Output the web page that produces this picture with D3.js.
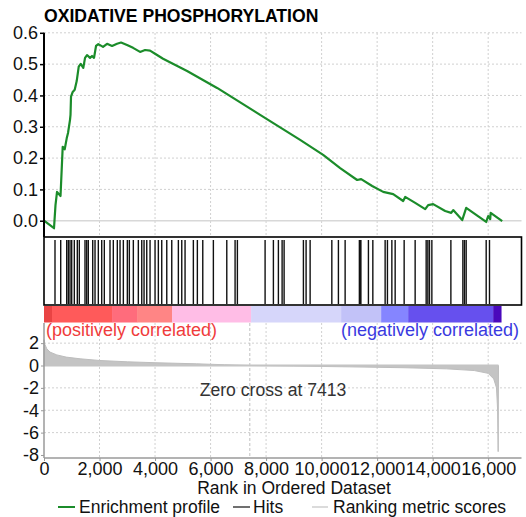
<!DOCTYPE html>
<html><head><meta charset="utf-8">
<script src="https://cdn.jsdelivr.net/npm/d3@7"></script>
<style>body{margin:0;background:#fff}svg{display:block;font-family:"Liberation Sans",Arial,Helvetica,sans-serif}</style>
</head><body><svg id="c" width="526" height="517"></svg>
<script>
const title = "OXIDATIVE PHOSPHORYLATION";
const xTicks = [0, 2000, 4000, 6000, 8000, 10000, 12000, 14000, 16000];
const esTicks = [0.0, 0.1, 0.2, 0.3, 0.4, 0.5, 0.6];
const metricTicks = [2, 0, -2, -4, -6, -8];
const zeroCross = 7413;
// running enrichment profile [rank, ES]
const esRank = [0,360,414,469,595,674,746,818,865,937,955,973,1034,1106,1178,1251,1323,1416,1478,1550,1658,1730,1802,1874,1957,2126,2271,2451,2631,2775,2991,3208,3460,3640,3820,4000,4289,5154,6235,7785,9226,10055,10668,11280,11425,11821,12218,12578,12938,13010,13371,13731,13839,14019,14451,14668,14740,15064,15208,15928,16000,16072,16090,16505];
const esValue = [0,-0.024,0.050,0.092,0.079,0.236,0.228,0.263,0.280,0.322,0.338,0.396,0.411,0.418,0.446,0.492,0.501,0.488,0.520,0.529,0.520,0.526,0.520,0.558,0.564,0.555,0.565,0.558,0.565,0.569,0.561,0.552,0.539,0.545,0.543,0.533,0.517,0.478,0.424,0.338,0.258,0.210,0.168,0.130,0.133,0.111,0.092,0.085,0.063,0.076,0.057,0.037,0.050,0.053,0.031,0.025,0.034,0.002,0.041,-0.004,0.015,0.005,0.025,-0.001];
// hit positions (rank)
const hits = [396,602,818,876,937,998,1092,1200,1272,1477,1539,1596,1755,1838,1957,2079,2173,2378,2497,2641,2739,2858,3002,3074,3218,3398,3521,3604,3701,3820,4000,4119,4241,4422,4602,4840,4962,5081,5380,5524,5719,6101,6584,6883,6966,7964,8263,8443,8577,8649,9344,9441,9586,10368,10605,10847,11360,11390,11415,11686,11845,12288,12371,12530,12649,12973,13369,13766,13827,13885,13971,14656,15088,15146,15207,15928,16047];
// ranking metric [rank, score]
const metricRank = [0,30,100,216,460,800,1300,2000,3000,4000,5500,6500,7413,9000,11000,13000,14500,15500,16000,16200,16300,16340,16360,16370];
const metricValue = [2.3,1.9,1.5,1.2,0.95,0.75,0.6,0.45,0.33,0.25,0.15,0.07,0,-0.05,-0.12,-0.2,-0.3,-0.45,-0.7,-1.2,-2.0,-4.0,-7.7,0];
// colour bar segments
const segStart = [0,288,2451,3352,4613,7460,10704,12145,13119,16182];
const segEnd = [288,2451,3352,4613,7460,10704,12145,13119,16182,16470];
const segColor = ["#e94444","#ff5a5a","#ff6c7c","#ff8585","#ffbde6","#d6d6fa","#c2c2f8","#8585ff","#6650ee","#4a08bc"];

const FONT = "Liberation Sans,Arial,sans-serif";
const svg = d3.select("#c");
const x = d3.scaleLinear().domain([0, 17200]).range([44, 521.5]);
const yE = d3.scaleLinear().domain([-0.052, 0.6]).range([237, 32.8]);
const yM = d3.scaleLinear().domain([-8.27, 3.8]).range([458, 323]);
const L = 44, R = 521.5;

// title
svg.append("text").attr("x", 44).attr("y", 22).attr("font-size", 17.6).attr("font-weight", "bold").text(title);

// top panel grid
const g = svg.append("g");
xTicks.slice(1).forEach(t => {
  g.append("line").attr("x1", x(t)).attr("x2", x(t)).attr("y1", 33).attr("y2", 237).attr("stroke", "#d0d0d0").attr("stroke-dasharray", "2,2");
});
esTicks.forEach(t => {
  if (t === 0) g.append("line").attr("x1", L).attr("x2", R).attr("y1", yE(t)).attr("y2", yE(t)).attr("stroke", "#d8d8d8").attr("stroke-width", 1.5);
  else g.append("line").attr("x1", L).attr("x2", R).attr("y1", yE(t)).attr("y2", yE(t)).attr("stroke", "#d0d0d0").attr("stroke-dasharray", "2,2");
});

// enrichment line
const es = esRank.map((r, i) => [r, esValue[i]]);
svg.append("path").datum(es).attr("fill", "none").attr("stroke", "#1b8c2a").attr("stroke-width", 2.2)
  .attr("stroke-linejoin", "round").attr("d", d3.line().x(d => x(d[0])).y(d => yE(d[1])));

// top y axis
const ax = svg.append("g").attr("transform", `translate(${L},0)`).call(d3.axisLeft(yE).tickValues(esTicks).tickFormat(d3.format(".1f")).tickSize(4).tickPadding(2));
ax.select(".domain").attr("stroke", "#000").attr("stroke-width", 2).attr("d", `M0,${yE(0.6)}V237`);
ax.selectAll("text").attr("font-size", 18).attr("font-family", FONT).attr("fill", "#111");
ax.selectAll(".tick line").attr("stroke", "#000").attr("stroke-width", 1.5);

// hits box
svg.append("rect").attr("x", L).attr("y", 237).attr("width", R - L).attr("height", 68).attr("fill", "#fff").attr("stroke", "#000").attr("stroke-width", 1.6);
svg.append("g").selectAll("line").data(hits).join("line")
  .attr("x1", d => x(d)).attr("x2", d => x(d)).attr("y1", 240).attr("y2", 304).attr("stroke", "#111").attr("stroke-width", 1.4);

// colour bar
svg.append("g").selectAll("rect").data(segColor).join("rect")
  .attr("x", (d, i) => x(segStart[i])).attr("width", (d, i) => x(segEnd[i]) - x(segStart[i]) + 0.3)
  .attr("y", 306).attr("height", 16.5).attr("fill", d => d);

// bottom panel grid
xTicks.slice(1).forEach(t => {
  svg.append("line").attr("x1", x(t)).attr("x2", x(t)).attr("y1", 323).attr("y2", 458).attr("stroke", "#d0d0d0").attr("stroke-dasharray", "2,2");
});
metricTicks.forEach(t => {
  if (t === 0 || t === -8) return;
  svg.append("line").attr("x1", L).attr("x2", R).attr("y1", yM(t)).attr("y2", yM(t)).attr("stroke", "#d0d0d0").attr("stroke-dasharray", "2,2");
});
// zero cross line
svg.append("line").attr("x1", x(zeroCross)).attr("x2", x(zeroCross)).attr("y1", 323).attr("y2", 458).attr("stroke", "#c0c0c0").attr("stroke-dasharray", "3,2");

// ranking metric area
const mt = metricRank.map((r, i) => [r, metricValue[i]]);
svg.append("path").datum(mt).attr("fill", "#c4c4c4").attr("stroke", "#bdbdbd").attr("stroke-width", 1)
  .attr("d", d3.area().x(d => x(d[0])).y0(yM(0)).y1(d => yM(d[1])));
svg.append("line").attr("x1", L).attr("x2", x(16370)).attr("y1", yM(0)).attr("y2", yM(0)).attr("stroke", "#c4c4c4").attr("stroke-width", 2);

// bottom axes
const bl = svg.append("g").attr("transform", `translate(${L},0)`).call(d3.axisLeft(yM).tickValues(metricTicks).tickFormat(d3.format("d")).tickSize(3).tickPadding(2));
bl.select(".domain").attr("stroke", "#9a9a9a").attr("stroke-width", 1.5).attr("d", "M0,323V458");
bl.selectAll(".tick line").attr("stroke", "#9a9a9a");
bl.selectAll("text").attr("font-size", 18).attr("font-family", FONT).attr("fill", "#111").text(d => d < 0 ? "-" + Math.abs(d) : d);
const bx = svg.append("g").attr("transform", "translate(0,458)").call(d3.axisBottom(x).tickValues(xTicks).tickFormat(d3.format(",")).tickSize(3).tickPadding(1));
bx.select(".domain").attr("stroke", "#9a9a9a").attr("stroke-width", 1.5).attr("d", `M${L},0H${R}`);
bx.selectAll(".tick line").attr("stroke", "#9a9a9a");
bx.selectAll("text").attr("font-size", 18).attr("font-family", FONT).attr("fill", "#111");

// annotations
svg.append("text").attr("x", 46).attr("y", 336).attr("font-size", 18).attr("fill", "#f03c3c").text("(positively correlated)");
svg.append("text").attr("x", 519).attr("y", 336).attr("text-anchor", "end").attr("font-size", 18).attr("fill", "#3a3ae0").text("(negatively correlated)");
svg.append("text").attr("x", 273).attr("y", 396).attr("text-anchor", "middle").attr("font-size", 17.6).attr("fill", "#333").text("Zero cross at " + zeroCross);

// x label
svg.append("text").attr("x", 294).attr("y", 494).attr("text-anchor", "middle").attr("font-size", 17.5).attr("fill", "#111").text("Rank in Ordered Dataset");

// legend
const lg = svg.append("g").attr("font-size", 17.5).attr("fill", "#111");
lg.append("line").attr("x1", 58).attr("x2", 75).attr("y1", 507).attr("y2", 507).attr("stroke", "#1b8c2a").attr("stroke-width", 2);
lg.append("text").attr("x", 79).attr("y", 513).text("Enrichment profile");
lg.append("line").attr("x1", 233).attr("x2", 250).attr("y1", 507).attr("y2", 507).attr("stroke", "#111").attr("stroke-width", 1.2);
lg.append("text").attr("x", 253).attr("y", 513).text("Hits");
lg.append("line").attr("x1", 312).attr("x2", 328).attr("y1", 507).attr("y2", 507).attr("stroke", "#c4c4c4").attr("stroke-width", 1.2);
lg.append("text").attr("x", 333).attr("y", 513).text("Ranking metric scores");
</script></body></html>
